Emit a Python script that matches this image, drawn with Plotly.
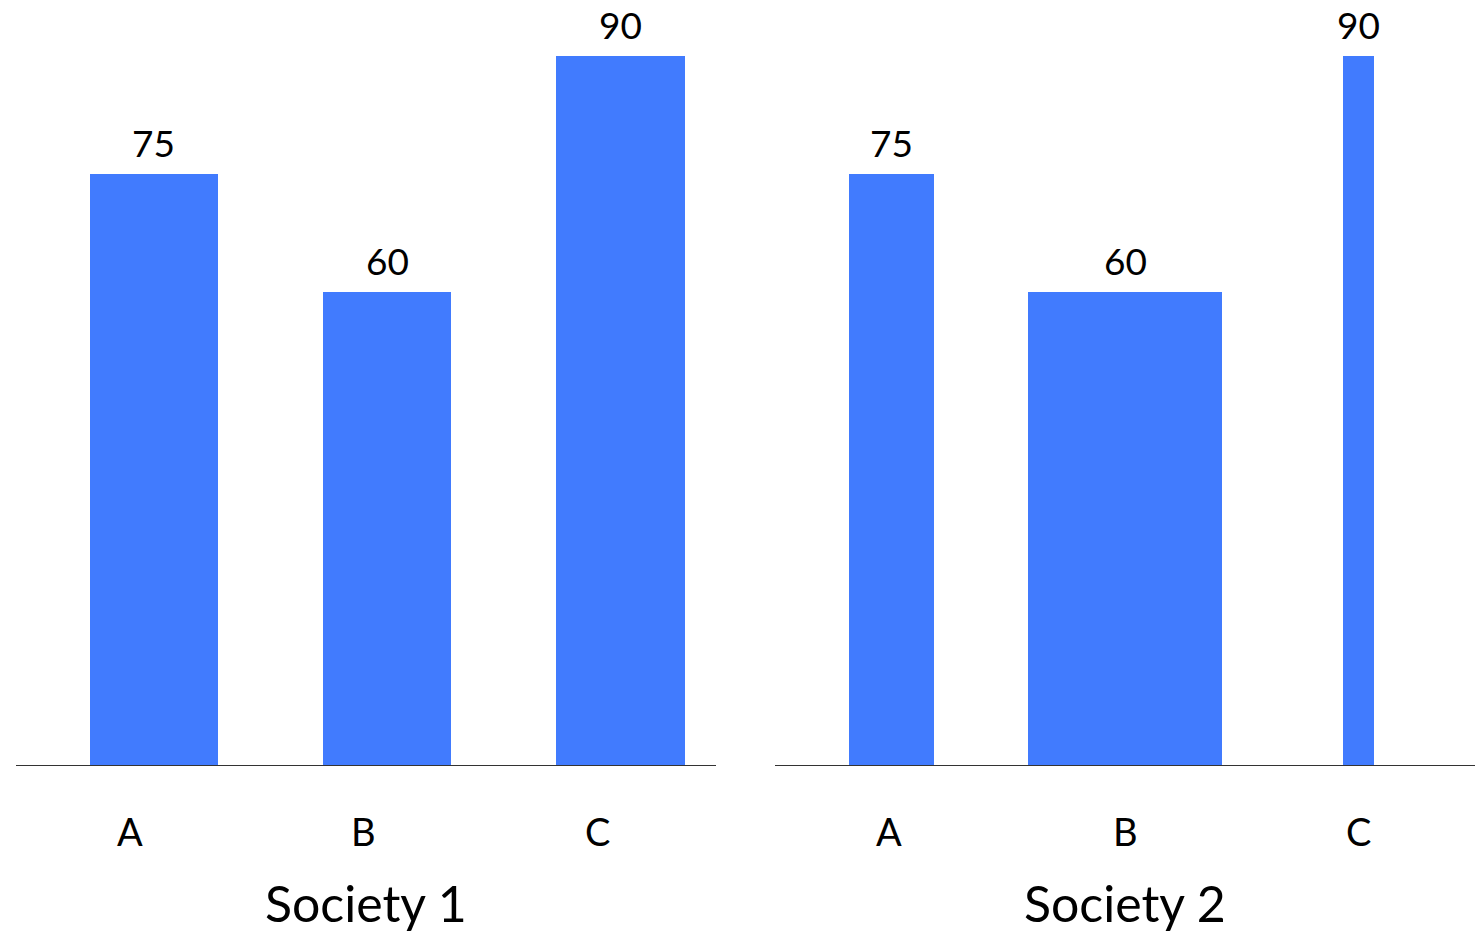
import plotly.graph_objects as go

categories = ["A", "B", "C"]
values_s1 = [75, 60, 90]
values_s2 = [75, 60, 90]
# bar centres and widths in category units (each category slot = 1)
centers_s1 = [0.59, 1.59, 2.59]
widths_s1 = [0.55, 0.55, 0.55]
centers_s2 = [0.50, 1.50, 2.50]
widths_s2 = [0.365, 0.83, 0.13]
tick_pos_s1 = [0.49, 1.49, 2.49]
tick_pos_s2 = [0.49, 1.50, 2.50]
panel_titles = ["Society 1", "Society 2"]

W, H = 1476, 935
BAR_COLOR = "#417BFE"
FONT = "Lato"

fig = go.Figure()
fig.add_trace(go.Bar(x=centers_s1, y=values_s1, width=widths_s1,
                     marker=dict(color=BAR_COLOR, line=dict(width=0)),
                     xaxis="x", yaxis="y", showlegend=False, hoverinfo="skip"))
fig.add_trace(go.Bar(x=centers_s2, y=values_s2, width=widths_s2,
                     marker=dict(color=BAR_COLOR, line=dict(width=0)),
                     xaxis="x2", yaxis="y2", showlegend=False, hoverinfo="skip"))

dom1 = [16 / W, 716 / W]
dom2 = [775 / W, 1475 / W]
ydom = [(H - 765) / H, 1.0]
ymax = 97.1

axis_common = dict(range=[0, 3], showgrid=False, zeroline=False, showticklabels=False,
                   ticks="", showline=True, linecolor="#333333", linewidth=1.2,
                   fixedrange=True)
yaxis_common = dict(range=[0, ymax], domain=ydom, showgrid=False, zeroline=False,
                    showticklabels=False, showline=False, ticks="", fixedrange=True)

annotations = []
for centers, vals, xref in [(centers_s1, values_s1, "x"), (centers_s2, values_s2, "x2")]:
    for c, v in zip(centers, vals):
        annotations.append(dict(x=c, y=v, xref=xref, yref="y" if xref == "x" else "y2",
                                text=str(v), showarrow=False, xanchor="center", yanchor="bottom",
                                yshift=7, font=dict(family=FONT, size=37, color="black")))
for ticks, xref in [(tick_pos_s1, "x"), (tick_pos_s2, "x2")]:
    for t, cat in zip(ticks, categories):
        annotations.append(dict(x=t, y=(H - 831) / H, xref=xref, yref="paper",
                                text=cat, showarrow=False, xanchor="center", yanchor="middle",
                                font=dict(family=FONT, size=38, color="black")))
for dom, title in zip([dom1, dom2], panel_titles):
    annotations.append(dict(x=(dom[0] + dom[1]) / 2, y=(H - 903) / H, xref="paper", yref="paper",
                            text=title, showarrow=False, xanchor="center", yanchor="middle",
                            font=dict(family=FONT, size=50, color="black")))

fig.update_layout(
    width=W, height=H,
    margin=dict(l=0, r=0, t=0, b=0),
    paper_bgcolor="white", plot_bgcolor="white",
    xaxis=dict(domain=dom1, anchor="y", **axis_common),
    xaxis2=dict(domain=dom2, anchor="y2", **axis_common),
    yaxis=dict(anchor="x", **yaxis_common),
    yaxis2=dict(anchor="x2", **yaxis_common),
    annotations=annotations,
    bargap=0,
)

fig.write_html("out.html",
               config={"displayModeBar": False},
               post_script="document.body.style.margin='0';document.body.style.overflow='hidden';")
